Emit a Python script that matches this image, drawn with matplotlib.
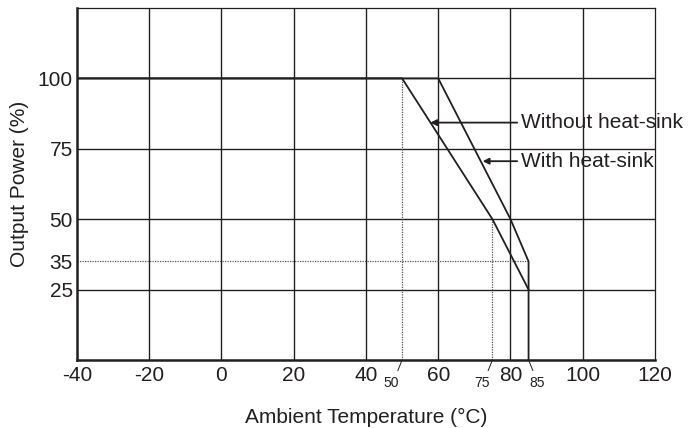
import matplotlib.pyplot as plt

# derating curves
temp_without = [-40, 50, 75, 85]
power_without = [100, 100, 50, 25]
temp_with = [-40, 60, 80, 85, 85]
power_with = [100, 100, 50, 35, 0]

x_ticks = [-40, -20, 0, 20, 40, 60, 80, 100, 120]
y_ticks = [25, 35, 50, 75, 100]
grid_y = [25, 50, 75, 100]
small_marks = [50, 75, 85]


def main():
    plt.rcParams['font.family'] = ['Liberation Sans', 'DejaVu Sans']
    plt.rcParams['axes.unicode_minus'] = False
    fig = plt.figure(figsize=(6.96, 4.28), dpi=100)
    ax = fig.add_axes([0.1106, 0.1589, 0.8305, 0.8224])
    ax.set_xlim(-40, 120)
    ax.set_ylim(0, 125)

    # grid
    for x in x_ticks[1:-1]:
        ax.axvline(x, color='#231f20', lw=1.0, zorder=1)
    for y in grid_y:
        ax.axhline(y, color='#231f20', lw=1.0, zorder=1)

    # dotted guides
    ax.plot([50, 50], [0, 100], color='#555555', lw=0.9, ls=(0, (1, 1)), zorder=1)
    ax.plot([75, 75], [0, 50], color='#555555', lw=0.9, ls=(0, (1, 1)), zorder=1)
    ax.plot([-40, 85], [35, 35], color='#555555', lw=0.9, ls=(0, (1, 1)), zorder=1)

    ax.plot(temp_without, power_without, color='#231f20', lw=1.3, zorder=3)
    ax.plot(temp_with, power_with, color='#231f20', lw=1.3, zorder=3)

    for side in ['left', 'bottom']:
        ax.spines[side].set_linewidth(1.8)
    for side in ['top', 'right']:
        ax.spines[side].set_linewidth(0.9)
    for s in ax.spines.values():
        s.set_color('#231f20')

    ax.set_xticks(x_ticks)
    ax.set_yticks(y_ticks)
    ax.tick_params(length=0, labelsize=15, colors='#231f20', pad=4)
    ax.tick_params(axis='y', pad=3)

    # small marks under the axis
    for t in small_marks:
        if t == 85:
            ax.annotate('', xy=(t, 0), xytext=(t + 1.2, -3.8), annotation_clip=False,
                        arrowprops=dict(arrowstyle='-', lw=0.7, color='#231f20', shrinkA=0, shrinkB=0))
            ax.text(t + 2.4, -8.0, str(t), fontsize=10, ha='center', va='center', color='#231f20', clip_on=False)
        else:
            ax.annotate('', xy=(t, 0), xytext=(t - 1.2, -3.8), annotation_clip=False,
                        arrowprops=dict(arrowstyle='-', lw=0.7, color='#231f20', shrinkA=0, shrinkB=0))
            ax.text(t - 3.0, -8.0, str(t), fontsize=10, ha='center', va='center', color='#231f20', clip_on=False)

    # annotations
    ax.annotate('Without heat-sink', xy=(57.8, 84.3), xytext=(83, 84.3), fontsize=15,
                va='center', color='#231f20',
                arrowprops=dict(arrowstyle='-|>', lw=1.3, color='#231f20', mutation_scale=9,
                                shrinkA=1, shrinkB=0))
    ax.annotate('With heat-sink', xy=(72.3, 70.6), xytext=(83, 70.6), fontsize=15,
                va='center', color='#231f20',
                arrowprops=dict(arrowstyle='-|>', lw=1.3, color='#231f20', mutation_scale=9,
                                shrinkA=1, shrinkB=0))

    ax.set_xlabel('Ambient Temperature (°C)', fontsize=15, color='#231f20', labelpad=17)
    ax.set_ylabel('Output Power (%)', fontsize=15, color='#231f20', labelpad=6)

    fig.savefig('out.png', dpi=100)


if __name__ == '__main__':
    main()
